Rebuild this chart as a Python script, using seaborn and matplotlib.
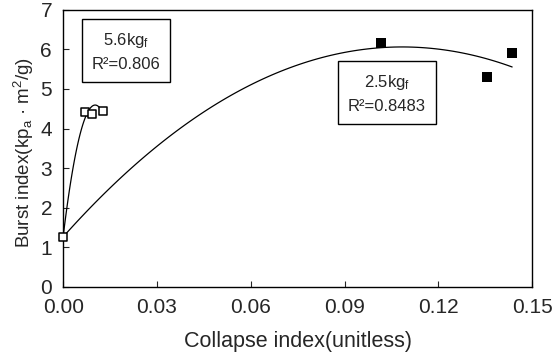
import numpy as np
import pandas as pd
import seaborn as sns
import matplotlib.pyplot as plt

sns.set_style("ticks")
plt.rcParams['font.family'] = ['Liberation Sans', 'DejaVu Sans']
plt.rcParams['mathtext.fontset'] = 'custom'
plt.rcParams['mathtext.rm'] = 'Liberation Sans'
plt.rcParams['mathtext.it'] = 'Liberation Sans'

# 5.6 kgf series (open squares)
x_56 = [0.0, 0.0070, 0.0093, 0.0128]
y_56 = [1.25, 4.42, 4.37, 4.44]
# 2.5 kgf series (filled squares)
x_25 = [0.0, 0.1015, 0.1357, 0.1436]
y_25 = [1.25, 6.16, 5.30, 5.91]

xticks = [0.00, 0.03, 0.06, 0.09, 0.12, 0.15]
yticks = [0, 1, 2, 3, 4, 5, 6, 7]

fig, ax = plt.subplots(figsize=(5.59, 3.56), dpi=100)
fig.subplots_adjust(left=0.113, right=0.952, top=0.972, bottom=0.195)

# quadratic trend lines
for xs, ys in [(x_56, y_56), (x_25, y_25)]:
    c = np.polyfit(xs, ys, 2)
    xx = np.linspace(min(xs), max(xs), 100)
    sns.lineplot(x=xx, y=np.polyval(c, xx), ax=ax, color='black', lw=0.9)

sns.scatterplot(x=x_56[1:], y=y_56[1:], ax=ax, marker='s', s=32,
                facecolor='white', edgecolor='black', linewidth=1.1, zorder=3)
sns.scatterplot(x=x_25[1:], y=y_25[1:], ax=ax, marker='s', s=62,
                color='black', linewidth=0, zorder=3)
sns.scatterplot(x=[x_56[0]], y=[y_56[0]], ax=ax, marker='s', s=36,
                facecolor='white', edgecolor='black', linewidth=1.1, zorder=4,
                clip_on=False)

ax.set_xlim(0, 0.15)
ax.set_ylim(0, 7)
ax.set_xticks(xticks)
ax.set_xticklabels([f"{t:.2f}" for t in xticks])
ax.set_yticks(yticks)
ax.tick_params(direction='in', length=4, labelsize=15, pad=8)
for s in ax.spines.values():
    s.set_linewidth(1.0)
    s.set_color('black')

ax.set_xlabel("Collapse index(unitless)", fontsize=15.5, labelpad=10)
ax.set_ylabel("Burst index(kp$_\\mathrm{a}$ · m$^2$/g)", fontsize=13.5)
ax.yaxis.set_label_coords(-0.058, 0.485)

box = dict(boxstyle='square,pad=0.6', facecolor='white', edgecolor='black', lw=1.0)
ax.text(0.0201, 5.95, "5.6kg$_\\mathrm{f}$\nR²=0.806", ha='center', va='center',
        fontsize=12, linespacing=1.6, bbox=box)
ax.text(0.1036, 4.88, "2.5kg$_\\mathrm{f}$\nR²=0.8483", ha='center', va='center',
        fontsize=12, linespacing=1.6, bbox=box)

fig.savefig("out.png", dpi=100)
